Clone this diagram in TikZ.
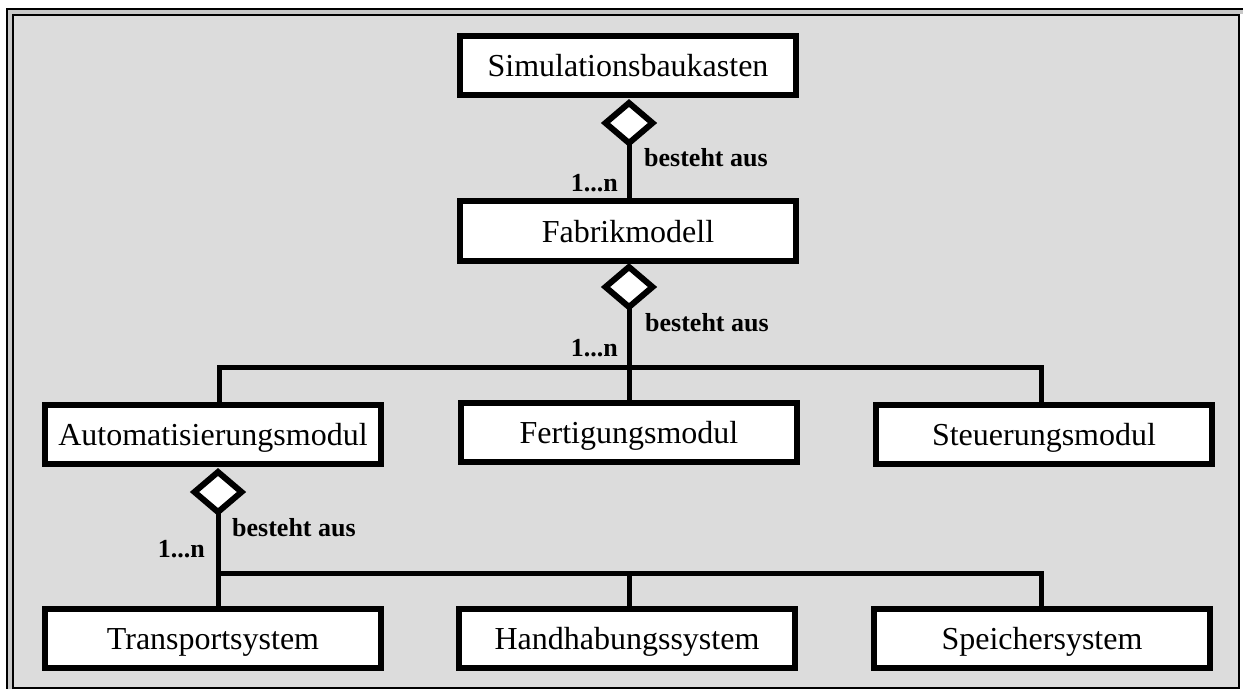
\documentclass[tikz,border=0pt]{standalone}
\usepackage{fontspec}
\setmainfont{Liberation Serif}
\usetikzlibrary{shapes.geometric}
\definecolor{panel}{HTML}{DCDCDC}
\definecolor{band}{HTML}{C8C8C8}
\begin{document}
\begin{tikzpicture}[x=1pt,y=-1pt,
  cls/.style={draw=black, fill=white, line width=6pt, minimum width=336pt, minimum height=59pt,
    inner sep=0pt, text height=22pt, text depth=0pt, font=\fontsize{32}{38}\selectfont},
  agg/.style={shape=diamond, draw=black, fill=white, line width=6pt, minimum width=47pt,
    minimum height=40pt, inner sep=0pt, outer sep=0pt},
  conn/.style={draw=black, line width=5pt, line join=miter},
  lbl/.style={inner sep=0pt, font=\fontsize{26}{30}\selectfont\bfseries},
]
\useasboundingbox (0,0) rectangle (1243,690);
% frame
\fill[band] (7,9) -- (1243,9) -- (1243,14) -- (13,14) -- (13,689) -- (7,689) -- cycle;
\draw[line width=2pt, fill=panel] (13,15) rectangle (1238.5,688);
\draw[line width=2pt] (7,689) -- (7,9) -- (1243,9);

% classes
\node[cls] (sim) at (628,66) {Simulationsbaukasten};
\node[cls] (fab) at (628,231) {Fabrikmodell};
\node[cls] (auto) at (213,434.5) {Automatisierungsmodul};
\node[cls] (fert) at (629,432.5) {Fertigungsmodul};
\node[cls] (steu) at (1044,434.5) {Steuerungsmodul};
\node[cls] (trans) at (213,638.5) {Transportsystem};
\node[cls] (hand) at (627,638) {Handhabungssystem};
\node[cls] (speich) at (1042,638.5) {Speichersystem};

% aggregation diamonds
\node[agg] (d1) at (629,123) {};
\node[agg] (d2) at (629,287) {};
\node[agg] (d3) at (218,492) {};

% bus coordinates
\coordinate (b1) at (219,367.5);
\coordinate (b2) at (1041,367.5);
\coordinate (c0) at (218,573);
\coordinate (c1) at (629,573);
\coordinate (c2) at (1041,573);

% connectors
\draw[conn] (d1.south) -- (d1.south |- fab.north);
\draw[conn] (d2.south) -- (d2.south |- fert.north);
\draw[conn] (b1 |- auto.north) -- (b1) -- (b2) -- (b2 |- steu.north);
\draw[conn] (d3.south) -- (d3.south |- trans.north);
\draw[conn] (c0) -- (c2) -- (c2 |- speich.north);
\draw[conn] (c1) -- (c1 |- hand.north);

% labels
\node[lbl, anchor=base west] (r1) at (644,167) {besteht aus};
\node[lbl, anchor=base east] (m1) at (618,192) {1...n};
\node[lbl, anchor=base west] (r2) at (645,331) {besteht aus};
\node[lbl, anchor=base east] (m2) at (618,356) {1...n};
\node[lbl, anchor=base west] (r3) at (232,536) {besteht aus};
\node[lbl, anchor=base east] (m3) at (205,557) {1...n};
\end{tikzpicture}
\end{document}
